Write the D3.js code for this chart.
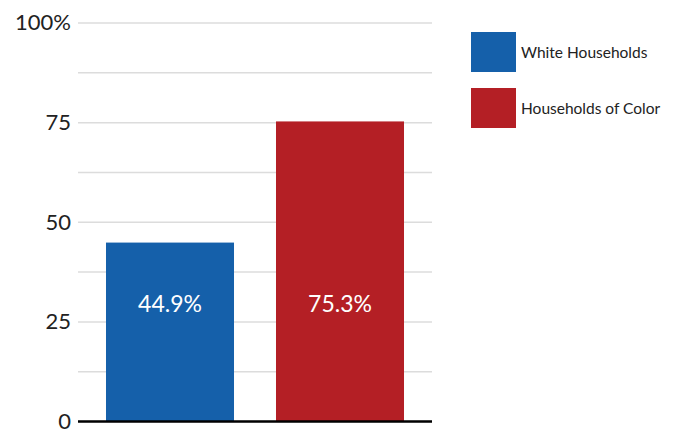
<!DOCTYPE html>
<html>
<head>
<meta charset="UTF-8">
<title>Households chart</title>
<style>
body { margin: 0; background: #fff; }
#chart text { font-family: "Lato", "Open Sans", sans-serif; }
.grid line { stroke: #dcdcdc; stroke-width: 1.5px; }
</style>
<script src="https://cdn.jsdelivr.net/npm/d3@7/dist/d3.min.js"></script>
</head>
<body>
<div id="chart"></div>
<script>
var categories = ["White Households", "Households of Color"];
var values = [44.9, 75.3];
var colors = ["#1560aa", "#b41f25"];
var tickValues = [0, 25, 50, 75, 100];
var tickLabels = ["0", "25", "50", "75", "100%"];
var gridValues = [0, 12.5, 25, 37.5, 50, 62.5, 75, 87.5, 100];

var width = 676, height = 430;
var svg = d3.select("#chart").append("svg")
  .attr("width", width)
  .attr("height", height);

var y = d3.scaleLinear().domain([0, 100]).range([421.5, 23]);
var x = d3.scaleBand().domain(categories).range([85, 425])
  .paddingInner(0.247).paddingOuter(0.1235);

// gridlines
svg.append("g").attr("class", "grid")
  .selectAll("line").data(gridValues).enter().append("line")
  .attr("x1", 78).attr("x2", 432)
  .attr("y1", function(d) { return y(d); })
  .attr("y2", function(d) { return y(d); });

// y axis labels
svg.append("g").selectAll("text").data(tickValues).enter().append("text")
  .attr("x", 71)
  .attr("y", function(d) { return y(d); })
  .attr("dy", "0.34em")
  .attr("text-anchor", "end")
  .style("font-size", "22px")
  .style("fill", "#222")
  .text(function(d, i) { return tickLabels[i]; });

// bars
svg.append("g").selectAll("rect").data(values).enter().append("rect")
  .attr("x", function(d, i) { return x(categories[i]); })
  .attr("width", x.bandwidth())
  .attr("y", function(d) { return y(d); })
  .attr("height", function(d) { return y(0) - y(d); })
  .attr("fill", function(d, i) { return colors[i]; });

// bar labels
svg.append("g").selectAll("text").data(values).enter().append("text")
  .attr("x", function(d, i) { return x(categories[i]) + x.bandwidth() / 2; })
  .attr("y", y(27.6))
  .attr("text-anchor", "middle")
  .style("font-size", "23px")
  .style("fill", "#fff")
  .text(function(d) { return d.toFixed(1) + "%"; });

// baseline
svg.append("line")
  .attr("x1", 78).attr("x2", 432)
  .attr("y1", y(0)).attr("y2", y(0))
  .attr("stroke", "#000").attr("stroke-width", 2.5);

// legend
var legend = svg.append("g").selectAll("g").data(categories).enter().append("g")
  .attr("transform", function(d, i) { return "translate(471," + (32 + i * 56) + ")"; });
legend.append("rect")
  .attr("width", 45).attr("height", 40)
  .attr("fill", function(d, i) { return colors[i]; });
legend.append("text")
  .attr("x", 50).attr("y", 20).attr("dy", "0.36em")
  .style("font-size", "15.5px")
  .style("fill", "#222")
  .text(function(d) { return d; });
</script>
</body>
</html>
